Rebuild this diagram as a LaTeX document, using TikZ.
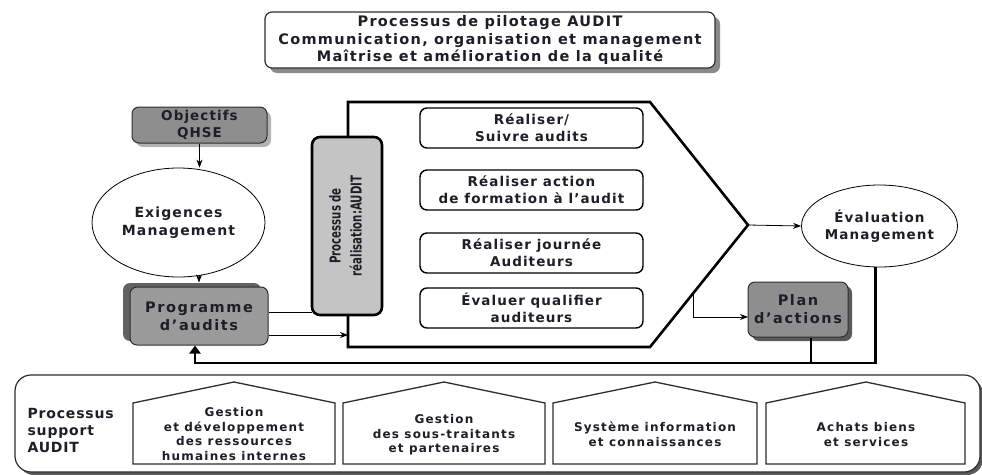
\documentclass[tikz,border=0pt]{standalone}
\usepackage{fontspec}
\setmainfont{DejaVu Sans}
\usetikzlibrary{arrows.meta,shapes.geometric,shadows}
\definecolor{ink}{HTML}{1E1E28}
\definecolor{boxgray}{HTML}{8E8E8E}
\definecolor{progfront}{HTML}{9A9A9A}
\definecolor{progback}{HTML}{626262}
\definecolor{stripgray}{HTML}{C4C4C4}
\definecolor{shade}{HTML}{8A8A8A}
\definecolor{lightshade}{HTML}{B4B4B4}
\definecolor{darkshade}{HTML}{5A5A5A}
\definecolor{edge}{HTML}{2E2E2E}

\begin{document}
\begin{tikzpicture}[x=1pt,y=-1pt,
  lbl/.style={font=\fontsize{13.5}{17}\selectfont\bfseries\addfontfeature{LetterSpace=8}, text=ink, align=center},
  big/.style={font=\fontsize{14.5}{18}\selectfont\bfseries\addfontfeature{LetterSpace=11}},
  sml/.style={font=\fontsize{12}{14.5}\selectfont\bfseries\addfontfeature{LetterSpace=10}, text=ink, align=center},
  gbox/.style={draw=edge, line width=1pt, fill=boxgray, rounded corners=7pt, lbl},
  wbox/.style={draw=black, line width=1.4pt, fill=white, rounded corners=7pt, lbl,
    minimum width=223pt, minimum height=40pt},
  oval/.style={ellipse, draw=black, line width=0.8pt, fill=white, lbl, inner sep=0pt},
  house/.style={draw=edge, line width=1.3pt, fill=white, line join=miter},
  flow/.style={-{Stealth[length=8pt,width=6pt]}, line width=0.8pt},
  heavy/.style={line width=2.6pt},
  shd/.style={general shadow={fill=#1, shadow xshift=4pt, shadow yshift=-4pt}}
]
\useasboundingbox (0,0) rectangle (982,474);

% steering process banner
\node[draw=edge, line width=1.2pt, fill=white, rounded corners=7pt, lbl,
  minimum width=450pt, minimum height=56pt,
  general shadow={fill=shade, shadow xshift=5pt, shadow yshift=-5pt},
  font=\fontsize{14.5}{17.5}\selectfont\bfseries\addfontfeature{LetterSpace=9}]
  (pilot) at (490,40)
  {Processus de pilotage AUDIT\\Communication, organisation et management\\Maîtrise et amélioration de la qualité};

% left column
\node[gbox, minimum width=135pt, minimum height=36pt, shd=lightshade] (obj) at (199.5,125) {Objectifs\\QHSE};
\node[oval, minimum width=173pt, minimum height=109pt,
  font=\fontsize{14}{18}\selectfont\bfseries\addfontfeature{LetterSpace=8}] (exi) at (178.5,222.5) {Exigences\\Management};
\node[gbox, big, fill=progfront, minimum width=138pt, minimum height=58pt,
  general shadow={fill=progback, shadow xshift=-7pt, shadow yshift=4pt}] (prog) at (199,316) {Programme\\d'audits};

\draw[flow] (obj.south) -- (obj.south |- exi.north);
\draw[flow] (prog.north |- exi.south) ++(0,-2) -- ([yshift=4pt]prog.north);

% realisation process arrow shape
\coordinate (pA) at (348,102);
\coordinate (pB) at (650,102);
\coordinate (tip) at (748,225);
\coordinate (pC) at (650,347);
\coordinate (pD) at (348,347);
\fill[shade, shift={(7,5)}] (pA) -- (pB) -- (tip) -- (pC) -- (pD) -- cycle;
\draw[heavy, fill=white, line join=miter] (pA) -- (pB) -- (tip) -- (pC) -- (pD) -- cycle;

\node[draw=black, line width=2.6pt, fill=stripgray, rounded corners=8pt, rotate=90,
  minimum width=178pt, minimum height=70pt, inner sep=0pt, text=ink] (real) at (347,226)
  {\scalebox{0.68}[1]{\fontsize{15}{21}\selectfont\bfseries\begin{tabular}{@{}c@{}}Processus de\\réalisation:AUDIT\end{tabular}}};

\node[wbox] (t1) at (531.5,128) {Réaliser/\\Suivre audits};
\node[wbox] (t2) at (531.5,190) {Réaliser action\\de formation à l'audit};
\node[wbox] (t3) at (531.5,253) {Réaliser journée\\Auditeurs};
\node[wbox] (t4) at (531.5,308) {Évaluer qualifier\\auditeurs};

\coordinate (in1) at (312,312);
\coordinate (in2) at (348,335);
\draw[line width=0.8pt] (prog.east |- in1) -- (in1);
\draw[flow] (prog.east |- in2) -- (in2);

% right column
\node[oval, minimum width=156pt, minimum height=82pt] (ev) at (879.5,226) {Évaluation\\Management};
\node[gbox, big, minimum width=100pt, minimum height=55pt, inner xsep=1pt, shd=darkshade] (plan) at (798,309.5) {Plan\\d'actions};

\draw[flow] (tip) -- (ev.west);
\coordinate (pa0) at (693,294);
\coordinate (pa1) at (748,317);
\draw[flow] (pa0) |- (pa1);

% feedback loop
\coordinate (fb) at (0,363);
\draw[heavy, -{Triangle[length=8pt,width=11pt]}] ([xshift=-4pt]ev.south) -- ([xshift=-4pt]ev.south |- fb) -| ([xshift=-4pt]prog.south);
\draw[heavy] ([xshift=13pt]plan.south) -- ([xshift=13pt]plan.south |- fb);

% support processes
\node[draw=edge, line width=1.2pt, fill=white, rounded corners=16pt,
  minimum width=965pt, minimum height=97pt,
  general shadow={fill=darkshade, shadow xshift=3pt, shadow yshift=-3pt}] (supp) at (497.5,423.5) {};
\node[anchor=west, align=left, text=ink,
  font=\fontsize{14}{17}\selectfont\bfseries\addfontfeature{LetterSpace=6}] (supl) at (24,430)
  {Processus\\support\\AUDIT};

\draw[house] (133,464) -- (133,403) -- (234,382) -- (335,403) -- (335,464) -- cycle;
\draw[house] (343,464) -- (343,403) -- (444,382) -- (545,403) -- (545,464) -- cycle;
\draw[house] (553,464) -- (553,403) -- (655,382) -- (757,403) -- (757,464) -- cycle;
\draw[house] (766,464) -- (766,403) -- (866,382) -- (965,403) -- (965,464) -- cycle;

\node[sml] (s1) at (234,434) {Gestion\\et développement\\des ressources\\humaines internes};
\node[sml] (s2) at (444,435) {Gestion\\des sous-traitants\\et partenaires};
\node[sml] (s3) at (655,434.5) {Système information\\et connaissances};
\node[sml] (s4) at (866,434.5) {Achats biens\\et services};

\end{tikzpicture}
\end{document}
